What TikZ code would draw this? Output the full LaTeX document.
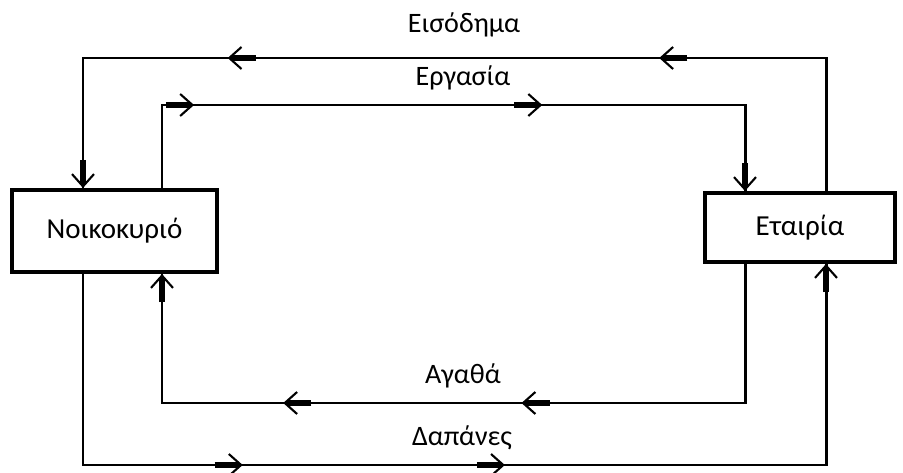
\documentclass[tikz,border=0pt]{standalone}
\usepackage{fontspec}
\setmainfont{Carlito}
\usetikzlibrary{arrows.meta,decorations.markings}

\tikzset{
  box/.style={draw, line width=2.3pt, inner sep=0pt, font=\fontsize{16.5}{19}\selectfont},
  flow/.style={line width=1.7pt},
  tipat/.style={postaction={decorate, decoration={markings,
      mark=at position #1 with {\draw[line width=3.2pt] (-16pt,0) -- (-2pt,0);
        \arrow[line width=1.2pt]{Straight Barb[length=7pt, width=12.5pt]}}}}},
  lbl/.style={font=\fontsize{16}{19}\selectfont}
}

\begin{document}
\begin{tikzpicture}[x=0.02cm, y=-0.02cm]
\useasboundingbox (0,0) rectangle (903,473);
% Boxes
\node[box, minimum width=4.1cm, minimum height=1.64cm] (home) at (114.5,231) {Νοικοκυριό};
\node[box, minimum width=3.8cm, minimum height=1.38cm] (firm) at (800,227.5) {Εταιρία};
% Corner points
\coordinate (inc) at (826,58);
\coordinate (incl) at (83,58);
\coordinate (lab) at (162,105);
\coordinate (labr) at (745,105);
\coordinate (goo) at (745,403);
\coordinate (gool) at (162,403);
\coordinate (exp) at (83,465);
\coordinate (expr) at (826,465);
% Flows
\draw[flow, tipat=0.298, tipat=0.727, tipat=1] (firm.north -| inc) -- (inc) -- (incl) -- (home.north -| incl);
\draw[flow, tipat=0.153, tipat=0.616, tipat=1] (home.north -| lab) -- (lab) -- (labr) -- (firm.north -| labr);
\draw[flow, tipat=0.426, tipat=0.706, tipat=1] (firm.south -| goo) -- (goo) -- (gool) -- (home.south -| gool);
\draw[flow, tipat=0.309, tipat=0.540, tipat=1] (home.south -| exp) -- (exp) -- (expr) -- (firm.south -| expr);
% Labels
\node[lbl] (inclbl) at (464,25) {Εισόδημα};
\node[lbl] (lablbl) at (463,78) {Εργασία};
\node[lbl] (goolbl) at (463,376) {Αγαθά};
\node[lbl] (explbl) at (462,438) {Δαπάνες};
\end{tikzpicture}
\end{document}
